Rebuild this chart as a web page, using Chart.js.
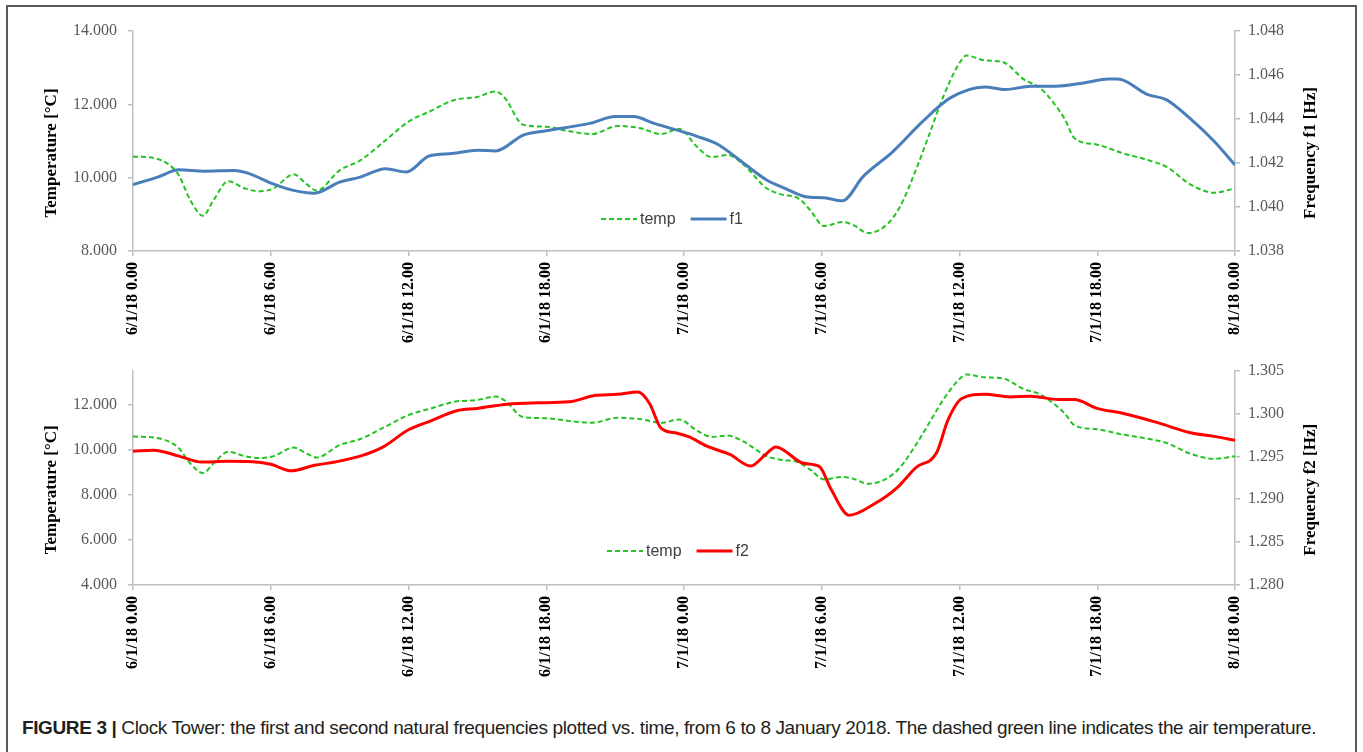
<!DOCTYPE html>
<html>
<head>
<meta charset="utf-8">
<script src="https://cdn.jsdelivr.net/npm/chart.js@4.4.1/dist/chart.umd.min.js"></script>
<style>
  html, body { margin: 0; padding: 0; background: #fff; }
  body { width: 1363px; height: 752px; position: relative; overflow: hidden; }
  .frame { position: absolute; left: 6px; top: 5px; width: 1351px; height: 800px; border: 2px solid #5a5a5a; box-sizing: border-box; }
  canvas { position: absolute; left: 0; }
  #top { top: 0; }
  #bottom { top: 350px; }
  .caption { position: absolute; left: 22px; top: 717px; font: 19px 'Liberation Sans', Arial, sans-serif; letter-spacing: -0.38px; color: #231f20; white-space: nowrap; line-height: 22px; }
  .caption b { font-weight: bold; }
</style>
</head>
<body>
<div class="frame"></div>
<canvas id="top" width="1363" height="350"></canvas>
<canvas id="bottom" width="1363" height="350"></canvas>
<div class="caption"><b>FIGURE 3 |</b> Clock Tower: the first and second natural frequencies plotted vs. time, from 6 to 8 January 2018. The dashed green line indicates the air temperature.</div>

<script>
// hours since 6/1/18 0.00
const tickHours = [0, 6, 12, 18, 24, 30, 36, 42, 48];
const timeLabels = ['6/1/18 0.00', '6/1/18 6.00', '6/1/18 12.00', '6/1/18 18.00', '7/1/18 0.00',
  '7/1/18 6.00', '7/1/18 12.00', '7/1/18 18.00', '8/1/18 0.00'];

const topTempTicks = [8, 10, 12, 14];
const bottomTempTicks = [4, 6, 8, 10, 12];
const f1Ticks = [1.038, 1.040, 1.042, 1.044, 1.046, 1.048];
const f2Ticks = [1.280, 1.285, 1.290, 1.295, 1.300, 1.305];

const tempHours = [0, 1, 1.6, 2, 2.5, 3.05, 3.5, 4.15, 4.9, 5.5, 6.1, 7, 7.55, 8, 9, 9.9, 11, 12, 12.9, 14,
  15, 15.8, 16.2, 17, 18, 18.9, 20, 21.1, 22.1, 23, 23.8, 24.55, 25.2, 25.9, 26.6, 27.6, 28.2, 29, 29.5,
  30.1, 30.9, 31.4, 32, 32.8, 33.4, 34.1, 34.7, 35.3, 36, 36.3, 37.1, 37.9, 38.8, 39.5, 40.1, 40.6, 41,
  42, 43.1, 44.2, 45, 46.1, 47.1, 48];
const tempValues = [10.58, 10.52, 10.34, 10.06, 9.38, 8.96, 9.38, 9.9, 9.7, 9.63, 9.7, 10.09, 9.83, 9.65,
  10.2, 10.47, 11.02, 11.53, 11.8, 12.12, 12.2, 12.35, 12.17, 11.44, 11.39, 11.28, 11.19, 11.41, 11.35,
  11.19, 11.33, 10.85, 10.56, 10.62, 10.35, 9.71, 9.55, 9.43, 9.11, 8.68, 8.79, 8.70, 8.49, 8.70, 9.2,
  10.21, 11.21, 12.22, 13.13, 13.33, 13.2, 13.15, 12.68, 12.45, 12.04, 11.58, 11.08, 10.9, 10.67, 10.48,
  10.3, 9.8, 9.59, 9.71];

const f1Hours = [0, 1.07, 2, 3.1, 4.4, 5, 6.1, 6.9, 7.9, 9, 9.9, 11, 11.9, 12.9, 13.9, 15, 15.8, 17, 18,
  19.9, 21, 21.8, 22.7, 24, 24.6, 25.5, 26.6, 27.6, 28.4, 29.3, 30.1, 30.9, 31.8, 33.1, 34.4, 35.6, 37.1,
  38, 39.1, 40.2, 41.4, 42.5, 42.9, 44.2, 45, 46.1, 47.1, 48];
const f1Values = [1.04102, 1.04136, 1.04169, 1.04163, 1.04166, 1.04154, 1.04105, 1.04078, 1.04063,
  1.04113, 1.04136, 1.04174, 1.04159, 1.04232, 1.04243, 1.04258, 1.04255, 1.04327, 1.04347, 1.0438,
  1.04411, 1.04411, 1.0438, 1.0434, 1.0432, 1.04283, 1.04199, 1.04123, 1.04085, 1.04047, 1.04042,
  1.04028, 1.04138, 1.04252, 1.04389, 1.04496, 1.04546, 1.04534, 1.04549, 1.04549, 1.04564, 1.04582,
  1.04582, 1.04511, 1.04488, 1.04397, 1.04298, 1.04191];

const f2Hours = [0, 0.9, 2, 3, 4.1, 5.2, 6, 6.9, 7.9, 8.8, 10, 10.9, 12, 13, 14.1, 15, 16.3, 17.6, 19,
  20.1, 21.1, 22, 22.5, 23, 23.7, 24.2, 25, 26, 26.9, 27.6, 28, 29.2, 29.9, 30.4, 31.2, 32.3, 33.3, 34.1,
  35, 35.5, 36.1, 37.1, 38.2, 39.1, 40.3, 41, 42, 43.1, 44.7, 46, 47.1, 48];
const f2Values = [1.29561, 1.29572, 1.29503, 1.29434, 1.29442, 1.29438, 1.29407, 1.29331, 1.29396,
  1.29434, 1.29511, 1.2961, 1.2981, 1.29917, 1.30032, 1.30059, 1.30109, 1.30124, 1.30136, 1.30209,
  1.30224, 1.30251, 1.30117, 1.29829, 1.2977, 1.2973, 1.29618, 1.29522, 1.29388, 1.29534, 1.2961,
  1.29419, 1.2938, 1.2912, 1.28813, 1.28947, 1.29139, 1.29369, 1.29541, 1.29925, 1.30174, 1.30224,
  1.30193, 1.30201, 1.30163, 1.30163, 1.30059, 1.30002, 1.29887, 1.29779, 1.29733, 1.29687];

const SERIF = "'Liberation Serif', 'Times New Roman', serif";
const SANS = "'Liberation Sans', Arial, sans-serif";
const AXIS = '#bfbfbf';
const TICK_TEXT = '#595959';
const GREEN = '#22c322';
const BLUE = '#4a7ebb';
const RED = '#ff0000';

const pairs = (xs, ys) => xs.map((x, i) => ({ x, y: ys[i] }));

// rotated axis titles (both read bottom-to-top, as in the original)
const axisTitles = {
  id: 'axisTitles',
  afterDraw(chart, args, opts) {
    const { ctx, chartArea } = chart;
    const cy = (chartArea.top + chartArea.bottom) / 2 + opts.shiftY;
    ctx.save();
    ctx.font = 'bold 17px ' + SERIF;
    ctx.fillStyle = '#000';
    ctx.textAlign = 'center';
    ctx.textBaseline = 'middle';
    [[opts.leftX, opts.left], [opts.rightX, opts.right]].forEach(([x, text]) => {
      ctx.save();
      ctx.translate(x, cy);
      ctx.rotate(-Math.PI / 2);
      ctx.fillText(text, 0, 0);
      ctx.restore();
    });
    ctx.restore();
  }
};

// legend sitting inside the plot, like Excel's
const innerLegend = {
  id: 'innerLegend',
  afterDraw(chart, args, opts) {
    const { ctx } = chart;
    let x = opts.x;
    const y = opts.y;
    ctx.save();
    ctx.font = '16px ' + SANS;
    ctx.textBaseline = 'middle';
    ctx.fillStyle = '#404040';
    chart.data.datasets.forEach((ds) => {
      ctx.beginPath();
      ctx.setLineDash(ds.borderDash || []);
      ctx.lineWidth = ds.borderWidth;
      ctx.strokeStyle = ds.borderColor;
      ctx.moveTo(x, y);
      ctx.lineTo(x + 36, y);
      ctx.stroke();
      ctx.setLineDash([]);
      x += 39;
      ctx.fillText(ds.label, x, y + 1);
      x += ctx.measureText(ds.label).width + 15;
    });
    ctx.restore();
  }
};

function panel(canvas, cfg) {
  return new Chart(canvas.getContext('2d'), {
    type: 'line',
    data: {
      datasets: [
        {
          label: 'temp',
          data: pairs(tempHours, tempValues),
          yAxisID: 'y',
          borderColor: GREEN,
          borderWidth: 2,
          borderDash: [5, 3],
          pointRadius: 0,
          cubicInterpolationMode: 'monotone',
          fill: false,
          order: 1,
        },
        {
          label: cfg.label,
          data: pairs(cfg.hours, cfg.values),
          yAxisID: 'y2',
          borderColor: cfg.color,
          borderWidth: 3,
          pointRadius: 0,
          cubicInterpolationMode: 'monotone',
          fill: false,
          order: 0,
        },
      ],
    },
    options: {
      responsive: false,
      animation: false,
      events: [],
      layout: { padding: { top: cfg.padTop, left: 0, right: 0, bottom: 0 } },
      plugins: {
        legend: { display: false },
        tooltip: { enabled: false },
        axisTitles: { left: 'Temperature [°C]', right: cfg.rightTitle, leftX: 52, rightX: 1311, shiftY: 12 },
        innerLegend: { x: cfg.legendX, y: cfg.legendY },
      },
      scales: {
        x: {
          type: 'linear', min: 0, max: 48,
          afterBuildTicks: (s) => { s.ticks = tickHours.map((v) => ({ value: v })); },
          afterFit: (s) => { s.height = cfg.xHeight; },
          border: { color: AXIS, width: 1.5 },
          grid: { drawOnChartArea: false, drawTicks: true, tickLength: 5, color: AXIS, lineWidth: 1.5 },
          ticks: {
            autoSkip: false, maxRotation: 90, minRotation: 90, padding: 6, color: '#000',
            font: { family: SERIF, size: 16, weight: 'bold' },
            callback: (v, i) => timeLabels[i],
          },
        },
        y: {
          position: 'left', min: cfg.tMin, max: cfg.tMax,
          afterBuildTicks: (s) => { s.ticks = cfg.tTicks.map((v) => ({ value: v })); },
          afterFit: (s) => { s.width = 133; },
          border: { color: AXIS, width: 1.5 },
          grid: { drawOnChartArea: false, drawTicks: true, tickLength: 5, color: AXIS, lineWidth: 1.5 },
          ticks: { padding: 11, color: TICK_TEXT, font: { family: SERIF, size: 16 }, callback: (v) => v.toFixed(3) },
        },
        y2: {
          position: 'right', min: cfg.fMin, max: cfg.fMax,
          afterBuildTicks: (s) => { s.ticks = cfg.fTicks.map((v) => ({ value: v })); },
          afterFit: (s) => { s.width = 128; },
          border: { color: AXIS, width: 1.5 },
          grid: { drawOnChartArea: false, drawTicks: true, tickLength: 5, color: AXIS, lineWidth: 1.5 },
          ticks: { padding: 8, color: TICK_TEXT, font: { family: SERIF, size: 16 }, callback: (v) => v.toFixed(3) },
        },
      },
    },
    plugins: [axisTitles, innerLegend],
  });
}

panel(document.getElementById('top'), {
  label: 'f1', hours: f1Hours, values: f1Values, color: BLUE,
  rightTitle: 'Frequency f1 [Hz]',
  tMin: 8, tMax: 14, tTicks: topTempTicks,
  fMin: 1.038, fMax: 1.048, fTicks: f1Ticks,
  padTop: 31, xHeight: 99, legendX: 601, legendY: 219,
});

panel(document.getElementById('bottom'), {
  label: 'f2', hours: f2Hours, values: f2Values, color: RED,
  rightTitle: 'Frequency f2 [Hz]',
  tMin: 4, tMax: 13.5, tTicks: bottomTempTicks,
  fMin: 1.280, fMax: 1.305, fTicks: f2Ticks,
  padTop: 15, xHeight: 115, legendX: 607, legendY: 201,
});
</script>
</body>
</html>
